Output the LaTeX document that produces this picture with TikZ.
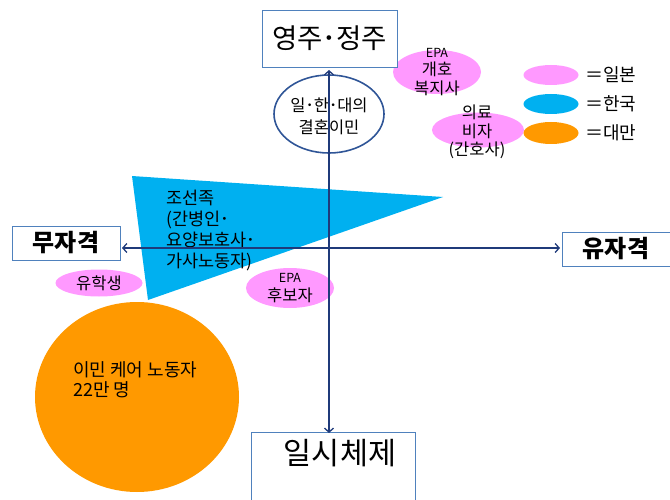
\documentclass[tikz,border=0pt]{standalone}
\usepackage{fontspec}
\setmainfont{Noto Sans CJK KR}
\usetikzlibrary{arrows.meta,shapes.geometric}
\definecolor{pinkj}{HTML}{FF99FF}
\definecolor{bluek}{HTML}{00B0F0}
\definecolor{orangt}{HTML}{FF9900}
\definecolor{boxline}{HTML}{4F81BD}
\definecolor{axisc}{HTML}{1F3A7A}
\definecolor{ellc}{HTML}{2F5597}
\begin{document}
\begin{tikzpicture}[x=1pt,y=-1pt,
  box/.style={draw=boxline, line width=0.8pt, fill=white, inner sep=0pt},
  blob/.style={ellipse, inner sep=0pt},
  lbl/.style={align=center, inner sep=0pt, font=\fontsize{16.5}{18.5}\selectfont},
  axisline/.style={draw=axisc, line width=1.3pt, {Straight Barb[length=4pt,width=9pt]}-{Straight Barb[length=4pt,width=9pt]}}
]
\useasboundingbox (0,0) rectangle (670,500);

% orange circle
\node[blob, fill=orangt, minimum width=204pt, minimum height=190pt] (care) at (137,397) {};
\node[anchor=west, align=left, inner sep=0pt, font=\fontsize{18}{20}\selectfont] (caretxt) at (73,380) {이민 케어 노동자\\22만 명};

% blue triangle
\path[fill=bluek] (132,176) -- (443,197) -- (148,300) -- cycle;
\node[anchor=north west, align=left, inner sep=0pt, font=\fontsize{17.5}{21}\selectfont] (chosun) at (166,190) {조선족\\(간병인･\\요양보호사･\\가사노동자)};

% pink ellipses
\node[blob, fill=pinkj, minimum width=88pt, minimum height=44pt] (epa1) at (437,72) {};
\node[lbl] (epa1t) at (437,72) {{\fontsize{12.5}{14}\selectfont EPA}\\개호\\복지사};
\node[blob, fill=pinkj, minimum width=92pt, minimum height=35pt] (visa) at (478,130) {};
\node[lbl] (visat) at (477,132) {의료\\비자\\(간호사)};
\node[blob, fill=pinkj, minimum width=87pt, minimum height=27pt] (study) at (99,283) {};
\node[lbl] (studyt) at (99,283) {유학생};
\node[blob, fill=pinkj, minimum width=88pt, minimum height=40pt] (epa2) at (290,288) {};
\node[lbl] (epa2t) at (290,288) {{\fontsize{12.5}{14}\selectfont EPA}\\후보자};

% legend
\node[blob, fill=pinkj, minimum width=55pt, minimum height=20pt] (lg1) at (551,75) {};
\node[blob, fill=bluek, minimum width=55pt, minimum height=20pt] (lg2) at (551,104) {};
\node[blob, fill=orangt, minimum width=55pt, minimum height=22pt] (lg3) at (551,133) {};
\node[anchor=west, inner sep=0pt, font=\fontsize{18}{20}\selectfont] (lg1t) at (585,75) {＝일본};
\node[anchor=west, inner sep=0pt, font=\fontsize{18}{20}\selectfont] (lg2t) at (585,104) {＝한국};
\node[anchor=west, inner sep=0pt, font=\fontsize{18}{20}\selectfont] (lg3t) at (585,133) {＝대만};

% marriage ellipse
\node[blob, draw=ellc, line width=1.6pt, fill=white, minimum width=110pt, minimum height=78pt] (marr) at (329,114) {};
\node[lbl, font=\fontsize{16.5}{22}\selectfont] (marrt) at (329,116) {일･한･대의\\결혼이민};

% boxes
\node[box, minimum width=135pt, minimum height=57pt, font=\fontsize{27.5}{30}\selectfont] (perm) at (329.5,38.5) {영주･정주};
\node[box, minimum width=108pt, minimum height=34pt, font=\bfseries\fontsize{24}{26}\selectfont] (unq) at (66,243) {무자격};
\node[box, minimum width=108pt, minimum height=34pt, font=\bfseries\fontsize{24}{26}\selectfont] (qual) at (616,249) {유자격};
\draw[boxline, line width=0.8pt] (251,505) |- (415,432) -- (415,505);
\node[inner sep=0pt, font=\fontsize{30.5}{33}\selectfont] (temp) at (340,453) {일시체제};

% axes
\coordinate (vtop) at (329,70);
\coordinate (vbot) at (329,433);
\coordinate (hleft) at (122,248);
\coordinate (hright) at (560,248);
\draw[axisline] (vbot) -- (vtop);
\draw[axisline] (hleft) -- (hright);
\end{tikzpicture}
\end{document}
